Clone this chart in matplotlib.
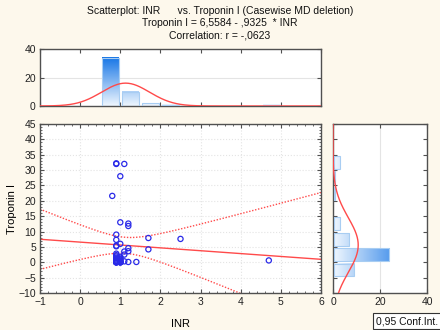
import numpy as np
import matplotlib
matplotlib.use("Agg")
import matplotlib.pyplot as plt
from matplotlib.colors import LinearSegmentedColormap
from matplotlib.ticker import MultipleLocator, AutoMinorLocator

plt.rcParams['font.family'] = ['Liberation Sans', 'DejaVu Sans']

# ---- data ----
inr = [0.9, 0.9, 1.1, 1.0, 0.8, 1.0, 1.2, 1.2,
       0.9, 1.7, 2.5, 0.9, 1.0, 0.9, 0.9,
       1.2, 1.7, 1.1, 1.2, 1.1, 1.4, 1.2, 1.1, 4.7,
       0.9, 0.9, 0.9, 0.9, 0.9, 0.9, 0.9, 0.9,
       1.0, 1.0, 1.0, 1.0, 1.0, 1.0, 1.0,
       0.9, 0.9, 0.9, 0.9, 0.9, 1.0, 1.0, 1.0, 1.0]
troponin = [32.0, 32.2, 32.0, 28.0, 21.6, 13.0, 12.6, 11.8,
            9.0, 7.9, 7.6, 7.3, 6.0, 5.4, 5.2,
            4.6, 4.2, 3.5, 3.6, 2.5, 0.1, 0.1, 0.3, 0.6,
            2.8, 2.3, 1.9, 1.5, 1.2, 0.9, 0.6, 0.4,
            1.8, 1.5, 1.1, 0.8, 0.5, 0.3, 0.2,
            0.0, 0.0, 0.0, 0.0, 0.0, 0.0, 0.0, 0.0, 0.0]
intercept = 6.5584
slope = -0.9325

top_bin_left = [0.5, 1.0, 1.5, 2.0, 4.5]
top_counts = [34, 10, 2, 1, 1]
top_bin_width = 0.5

right_bin_low = [-5, 0, 5, 10, 20, 25, 30]
right_counts = [9, 24, 7, 3, 1, 1, 3]
right_bin_width = 5

title_lines = ["Scatterplot: INR      vs. Troponin I (Casewise MD deletion)",
               "Troponin I = 6,5584 - ,9325  * INR",
               "Correlation: r = -,0623"]

# ---- style ----
bg = '#fdf8ec'
red = '#ff4a4a'
blue_pt = '#2a2ae8'
edge_bar = '#a8cdf2'
cmap = LinearSegmentedColormap.from_list('g', ['#eef6fe', '#1776e6'])
spine_c = '#505050'

fig = plt.figure(figsize=(4.4, 3.3), dpi=100, facecolor=bg)
W, H = 440, 330
def rect(x0, y0, x1, y1):
    return [x0 / W, 1 - y1 / H, (x1 - x0) / W, (y1 - y0) / H]

ax = fig.add_axes(rect(40, 124, 321, 293))
axt = fig.add_axes(rect(40, 49, 321, 106))
axr = fig.add_axes(rect(333, 124, 427, 293))

def style(a):
    a.set_facecolor('white')
    for s in a.spines.values():
        s.set_color(spine_c)
        s.set_linewidth(1.0)
    a.tick_params(which='both', direction='in', top=True, right=True,
                  colors=spine_c, labelcolor='#222222', labelsize=7.5, pad=3)
    a.tick_params(which='major', length=3)
    a.tick_params(which='minor', length=1.5)
    a.grid(True, which='major', color='#e4e4e4', linestyle=':', linewidth=0.8)
    a.set_axisbelow(True)

for a in (ax, axt, axr):
    style(a)

x = np.array(inr)
y = np.array(troponin)
n = len(x)

# ---- main scatter ----
ax.scatter(x, y, s=14, facecolors='none', edgecolors=blue_pt, linewidths=0.9, zorder=3)
xs = np.linspace(-1, 6, 200)
yfit = intercept + slope * xs
resid = y - (intercept + slope * x)
s_err = np.sqrt(np.sum(resid ** 2) / (n - 2))
xm = x.mean()
sxx = np.sum((x - xm) ** 2)
tval = 2.013
half = tval * s_err * np.sqrt(1.0 / n + (xs - xm) ** 2 / sxx)
ax.plot(xs, yfit, color=red, lw=1.0, zorder=2)
ax.plot(xs, yfit + half, color=red, lw=1.0, ls=(0, (1, 1.2)), zorder=2)
ax.plot(xs, yfit - half, color=red, lw=1.0, ls=(0, (1, 1.2)), zorder=2)
ax.set_xlim(-1, 6)
ax.set_ylim(-10, 45)
ax.xaxis.set_major_locator(MultipleLocator(1))
ax.yaxis.set_major_locator(MultipleLocator(5))
ax.xaxis.set_minor_locator(AutoMinorLocator(5))
ax.yaxis.set_minor_locator(AutoMinorLocator(5))
ax.set_xlabel('INR', fontsize=8)
ax.set_ylabel('Troponin I', fontsize=8)
ax.xaxis.set_label_coords((180 - 40) / 281, -(319 - 293) / 169)
ax.yaxis.set_label_coords(-(40 - 17) / 281, 0.5)

# ---- top histogram ----
vmax = max(top_counts)
for left, c in zip(top_bin_left, top_counts):
    grad = np.linspace(0, c, 64).reshape(-1, 1)
    axt.imshow(grad, extent=[left + 0.05, left + top_bin_width - 0.03, 0, c], origin='lower',
               aspect='auto', cmap=cmap, vmin=0, vmax=vmax, zorder=2)
    axt.bar(left + 0.05, c, width=top_bin_width - 0.08, align='edge', facecolor='none',
            edgecolor=edge_bar, linewidth=0.8, zorder=3)
xx = np.linspace(-1, 6, 300)
mu, sd = x.mean(), x.std(ddof=1)
axt.plot(xx, n * top_bin_width * np.exp(-0.5 * ((xx - mu) / sd) ** 2) / (sd * np.sqrt(2 * np.pi)),
         color=red, lw=1.0, zorder=4)
axt.set_xlim(-1, 6)
axt.set_ylim(0, 40)
axt.xaxis.set_major_locator(MultipleLocator(1))
axt.yaxis.set_major_locator(MultipleLocator(20))
axt.tick_params(axis='x', labelbottom=False)
axt.tick_params(which='minor', length=0)
axt.grid(True, axis='y', which='major', color='#e4e4e4', linestyle='-', linewidth=0.8)
axt.grid(False, axis='x')

# ---- right histogram ----
for low, c in zip(right_bin_low, right_counts):
    grad = np.linspace(0, c, 64).reshape(1, -1)
    axr.imshow(grad, extent=[0.3, c, low + 0.4, low + right_bin_width - 0.4], origin='lower',
               aspect='auto', cmap=cmap, vmin=0, vmax=vmax, zorder=2)
    axr.barh(low + 0.4, c - 0.3, left=0.3, height=right_bin_width - 0.8, align='edge',
             facecolor='none', edgecolor=edge_bar, linewidth=0.8, zorder=3)
yy = np.linspace(-10, 45, 300)
mu2, sd2 = y.mean(), y.std(ddof=1)
axr.plot(n * right_bin_width * np.exp(-0.5 * ((yy - mu2) / sd2) ** 2) / (sd2 * np.sqrt(2 * np.pi)),
         yy, color=red, lw=1.0, zorder=4)
axr.set_xlim(0, 40)
axr.set_ylim(-10, 45)
axr.xaxis.set_major_locator(MultipleLocator(20))
axr.yaxis.set_major_locator(MultipleLocator(5))
axr.tick_params(axis='y', labelleft=False)
axr.tick_params(which='minor', length=0)
axr.grid(True, axis='x', which='major', color='#e4e4e4', linestyle='-', linewidth=0.8)
axr.grid(False, axis='y')

# ---- titles ----
for i, t in enumerate(title_lines):
    fig.text(0.5, 1 - (11 + 12 * i) / H, t, ha='center', va='center', fontsize=7.5, color='#111111')

fig.text(407 / W, 1 - 321 / H, '0,95 Conf.Int.', ha='center', va='center', fontsize=7.5,
         color='#111111',
         bbox=dict(boxstyle='square,pad=0.3', facecolor='white', edgecolor='#333333', linewidth=0.8))

fig.savefig('out.png', dpi=100, facecolor=bg)
